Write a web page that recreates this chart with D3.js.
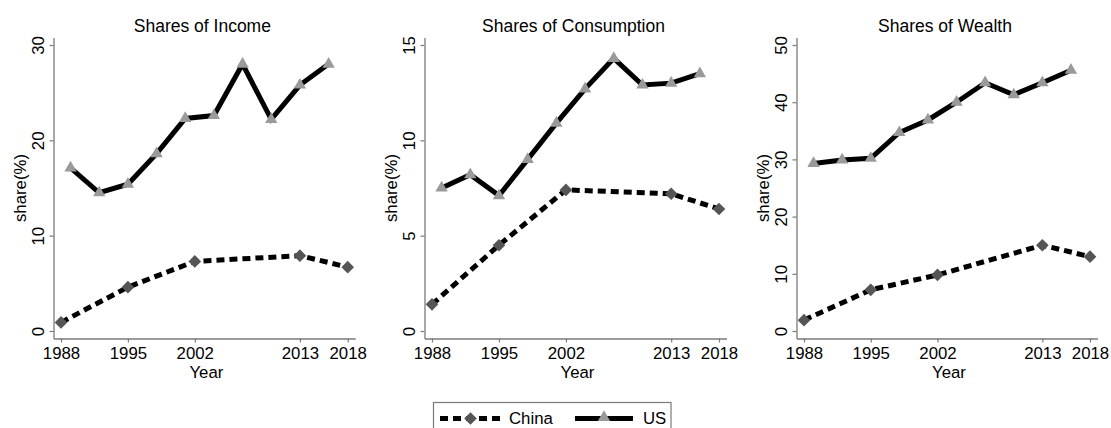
<!DOCTYPE html>
<html>
<head>
<meta charset="utf-8">
<script src="https://cdn.jsdelivr.net/npm/d3@7"></script>
<style>
  html, body { margin: 0; padding: 0; background: #fff; }
  svg { display: block; font-family: "Liberation Sans", Arial, Helvetica, sans-serif; }
</style>
</head>
<body>
<svg id="chart" width="1111" height="428"></svg>
<script>
// Survey years for each country
const usYears = [1989, 1992, 1995, 1998, 2001, 2004, 2007, 2010, 2013, 2016];
const chinaYears = [1988, 1995, 2002, 2013, 2018];

// Top 1% shares (%) by country
const usIncome = [17.1, 14.5, 15.4, 18.6, 22.3, 22.6, 28.0, 22.2, 25.8, 28.0];
const chinaIncome = [0.9, 4.6, 7.3, 7.9, 6.7];
const usConsumption = [7.5, 8.2, 7.1, 9.0, 10.9, 12.7, 14.3, 12.9, 13.0, 13.5];
const chinaConsumption = [1.4, 4.5, 7.4, 7.2, 6.4];
const usWealth = [29.3, 29.9, 30.2, 34.7, 36.9, 40.0, 43.4, 41.3, 43.4, 45.6];
const chinaWealth = [1.9, 7.2, 9.8, 15.0, 13.0];

// Axis ticks
const yearTicks = [1988, 1995, 2002, 2013, 2018];
const incomeTicks = [0, 10, 20, 30];
const consumptionTicks = [0, 5, 10, 15];
const wealthTicks = [0, 10, 20, 30, 40, 50];

const panelTitles = ["Shares of Income", "Shares of Consumption", "Shares of Wealth"];
const legendLabels = ["China", "US"];

const panels = [
  { title: panelTitles[0], us: usIncome, cn: chinaIncome, ticks: incomeTicks, x0: 61, x1: 347.7 },
  { title: panelTitles[1], us: usConsumption, cn: chinaConsumption, ticks: consumptionTicks, x0: 432, x1: 719 },
  { title: panelTitles[2], us: usWealth, cn: chinaWealth, ticks: wealthTicks, x0: 804, x1: 1090 }
];

const svg = d3.select("#chart");
const axisColor = "#7a7a7a";
const textColor = "#000";
const pad = 7.5;           // gap between the data range and the axis ends
const yBottom = 331, yTop = 45;
const tickFont = 16.8;

const triangle = d3.symbol().type(d3.symbolTriangle).size(66);
const diamond = d3.symbol().type(d3.symbolSquare).size(80);

const lineUS = { dash: null, width: 5 };
const lineCN = { dash: "8,5", width: 5 };

panels.forEach(p => {
  const yMax = p.ticks[p.ticks.length - 1];
  const x = d3.scaleLinear().domain([1988, 2018]).range([p.x0, p.x1]);
  const y = d3.scaleLinear().domain([0, yMax]).range([yBottom, yTop]);

  // axis scales padded beyond the data range
  const xa = d3.scaleLinear().domain([x.invert(p.x0 - pad), x.invert(p.x1 + pad)]).range([p.x0 - pad, p.x1 + pad]);
  const ya = d3.scaleLinear().domain([y.invert(yBottom + pad), y.invert(yTop - pad)]).range([yBottom + pad, yTop - pad]);

  const left = p.x0 - pad, right = p.x1 + pad, bottom = yBottom + pad;
  const g = svg.append("g");

  // x axis
  const gx = g.append("g").attr("transform", `translate(0,${bottom})`)
    .call(d3.axisBottom(xa).tickValues(yearTicks).tickFormat(d3.format("d")).tickSize(4).tickSizeOuter(0));
  gx.attr("font-family", null);
  gx.select(".domain").attr("stroke", axisColor).attr("stroke-width", 1.3);
  gx.selectAll(".tick line").attr("stroke", axisColor).attr("stroke-width", 1.2);
  gx.selectAll(".tick text").attr("y", 20.5).attr("dy", 0)
    .attr("font-size", tickFont).attr("fill", textColor);

  // y axis
  const gy = g.append("g").attr("transform", `translate(${left},0)`)
    .call(d3.axisLeft(ya).tickValues(p.ticks).tickSize(4).tickSizeOuter(0));
  gy.attr("font-family", null);
  gy.select(".domain").attr("stroke", axisColor).attr("stroke-width", 1.3);
  gy.selectAll(".tick line").attr("stroke", axisColor).attr("stroke-width", 1.2);
  gy.selectAll(".tick text")
    .attr("x", 0).attr("y", -10).attr("dy", 0)
    .attr("transform", "rotate(-90)")
    .attr("text-anchor", "middle")
    .attr("font-size", tickFont).attr("fill", textColor);

  // titles
  const cx = (left + right) / 2;
  g.append("text").attr("x", cx - 2).attr("y", 31.5).attr("text-anchor", "middle")
    .attr("font-size", 17.5).attr("fill", textColor).text(p.title);
  g.append("text").attr("x", cx + 2).attr("y", 378).attr("text-anchor", "middle")
    .attr("font-size", tickFont).attr("fill", textColor).text("Year");
  g.append("text").attr("transform", `translate(${left - 27.5},${(yTop - pad + bottom) / 2}) rotate(-90)`)
    .attr("text-anchor", "middle").attr("font-size", tickFont).attr("fill", textColor).text("share(%)");

  const line = d3.line();
  const usPts = usYears.map((yr, i) => [x(yr), y(p.us[i])]);
  const cnPts = chinaYears.map((yr, i) => [x(yr), y(p.cn[i])]);

  g.append("path").attr("d", line(usPts)).attr("fill", "none").attr("stroke", "#000")
    .attr("stroke-width", lineUS.width).attr("stroke-linejoin", "miter");
  g.append("path").attr("d", line(cnPts)).attr("fill", "none").attr("stroke", "#000")
    .attr("stroke-width", lineCN.width).attr("stroke-dasharray", lineCN.dash);

  g.selectAll(".tri").data(usPts).join("path")
    .attr("transform", d => `translate(${d[0]},${d[1]})`)
    .attr("d", triangle).attr("fill", "#9a9a9a");
  g.selectAll(".dia").data(cnPts).join("path")
    .attr("transform", d => `translate(${d[0]},${d[1]}) rotate(45)`)
    .attr("d", diamond).attr("fill", "#555");
});

// legend
const lg = svg.append("g");
lg.append("rect").attr("x", 433.5).attr("y", 402.5).attr("width", 237.5).attr("height", 40)
  .attr("fill", "#fff").attr("stroke", axisColor).attr("stroke-width", 1.2);
const ly = 418.5;
lg.append("line").attr("x1", 440).attr("x2", 501).attr("y1", ly).attr("y2", ly)
  .attr("stroke", "#000").attr("stroke-width", lineCN.width).attr("stroke-dasharray", lineCN.dash);
lg.append("path").attr("transform", `translate(470.5,${ly}) rotate(45)`).attr("d", diamond).attr("fill", "#555");
lg.append("text").attr("x", 509).attr("y", ly + 5.5).attr("font-size", tickFont).attr("fill", textColor).text(legendLabels[0]);
lg.append("line").attr("x1", 575).attr("x2", 633).attr("y1", ly).attr("y2", ly)
  .attr("stroke", "#000").attr("stroke-width", lineUS.width);
lg.append("path").attr("transform", `translate(604,${ly - 1})`).attr("d", triangle).attr("fill", "#9a9a9a");
lg.append("text").attr("x", 643).attr("y", ly + 5.5).attr("font-size", tickFont).attr("fill", textColor).text(legendLabels[1]);
</script>
</body>
</html>
